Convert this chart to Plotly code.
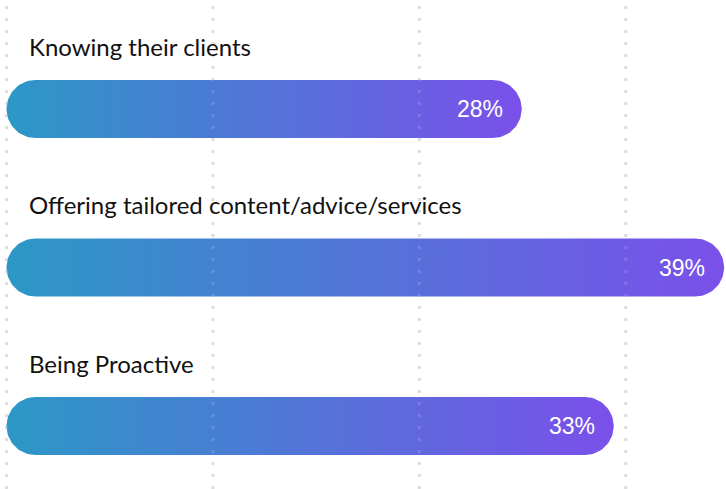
import numpy as np
import plotly.graph_objects as go

# Survey results
categories = ["Knowing their clients", "Offering tailored content/advice/services", "Being Proactive"]
values = [28, 39, 33]
value_labels = ["28%", "39%", "33%"]

# Layout constants (pixels)
W, H = 726, 489
X0_PX = 6.5            # where 0 sits horizontally
PX_PER_UNIT = 18.4     # horizontal pixels per percentage point
ROW_TOP_PX = 109       # centre of first bar
ROW_STEP_PX = 158.5    # distance between bar centres
BAR_H_PX = 58
GRID_STEP_PX = 206.4

x_range = [-X0_PX / PX_PER_UNIT, (W - X0_PX) / PX_PER_UNIT]
n = len(categories)
y_top = -ROW_TOP_PX / ROW_STEP_PX
y_bottom = (n - 1) + (H - (ROW_TOP_PX + (n - 1) * ROW_STEP_PX)) / ROW_STEP_PX
y_range = [y_bottom, y_top]

half_h = (BAR_H_PX / 2) / ROW_STEP_PX       # in y units
rad_x = (BAR_H_PX / 2) / PX_PER_UNIT        # end-cap radius in x units

c_left = "rgb(44,152,198)"
c_right = "rgb(122,80,234)"


def pill(value, yc):
    """Outline of a bar with fully rounded ends, in data units."""
    t_r = np.linspace(-np.pi / 2, np.pi / 2, 40)
    t_l = np.linspace(np.pi / 2, 3 * np.pi / 2, 40)
    xr = (value - rad_x) + rad_x * np.cos(t_r)
    yr = yc - half_h * np.sin(t_r)
    xl = rad_x + rad_x * np.cos(t_l)
    yl = yc - half_h * np.sin(t_l)
    xs = np.concatenate([xr, xl, xr[:1]])
    ys = np.concatenate([yr, yl, yr[:1]])
    return xs, ys


fig = go.Figure()

for i, (cat, val) in enumerate(zip(categories, values)):
    xs, ys = pill(val, i)
    fig.add_trace(go.Scatter(
        x=xs, y=ys, mode="lines", fill="toself",
        line=dict(width=0, color="rgba(0,0,0,0)"),
        fillgradient=dict(type="horizontal",
                          colorscale=[[0, c_left], [1, c_right]]),
        hoverinfo="skip", showlegend=False,
    ))

# Dotted vertical guides
grid_x = [(k * GRID_STEP_PX) / PX_PER_UNIT for k in range(4)]
shapes = []
for gx in grid_x:
    shapes.append(dict(type="line", xref="x", yref="paper", x0=gx, x1=gx,
                       y0=0, y1=1, layer="below",
                       line=dict(color="#dcdcdc", width=3, dash="3px,9px")))
    shapes.append(dict(type="line", xref="x", yref="paper", x0=gx, x1=gx,
                       y0=0, y1=1, layer="above",
                       line=dict(color="rgba(225,225,235,0.18)", width=3, dash="3px,9px")))

annotations = []
for i, (cat, val, lab) in enumerate(zip(categories, values, value_labels)):
    annotations.append(dict(
        x=0, y=i, xref="x", yref="y", text=cat, showarrow=False,
        xanchor="left", yanchor="middle", xshift=20, yshift=63,
        font=dict(family="Lato", size=24, color="#111111"),
    ))
    annotations.append(dict(
        x=val, y=i, xref="x", yref="y", text=lab, showarrow=False,
        xanchor="right", yanchor="middle", xshift=-17, yshift=0,
        font=dict(family="Liberation Sans, Arial", size=23, color="white"),
    ))

fig.update_layout(
    width=W, height=H,
    margin=dict(l=0, r=0, t=0, b=0),
    paper_bgcolor="white", plot_bgcolor="white",
    xaxis=dict(range=x_range, visible=False, fixedrange=True),
    yaxis=dict(range=y_range, visible=False, fixedrange=True),
    shapes=shapes, annotations=annotations,
    showlegend=False,
)

fig.write_html("out.html")
